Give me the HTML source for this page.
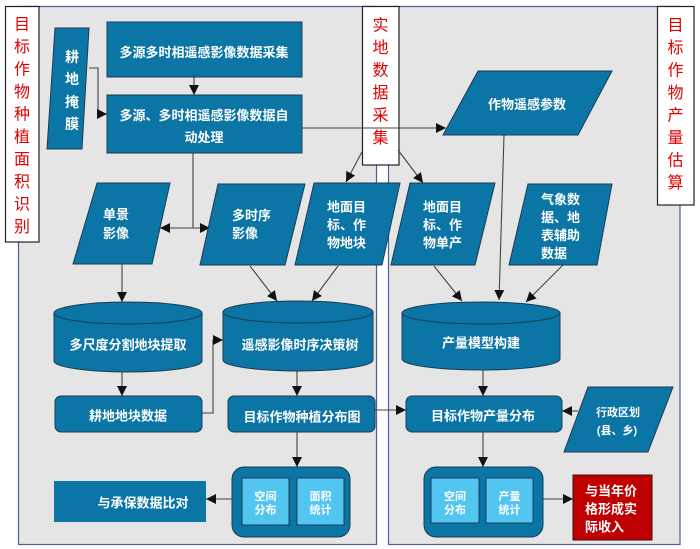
<!DOCTYPE html>
<html><head><meta charset="utf-8">
<style>
html,body{margin:0;padding:0;background:#fff;}
svg{display:block;}
text{font-family:"Liberation Sans","Noto Sans CJK SC",sans-serif;}
.w{fill:#fff;font-weight:bold;font-size:13px;}
.r{fill:#e00000;font-size:16px;text-anchor:middle;}
.c{text-anchor:middle;}
</style></head>
<body>
<svg width="700" height="549" viewBox="0 0 700 549" xmlns="http://www.w3.org/2000/svg">
<defs>
<marker id="a" viewBox="0 0 10 10" refX="10" refY="5" markerWidth="10" markerHeight="10" markerUnits="userSpaceOnUse" orient="auto">
<path d="M0,0 L10,5 L0,10 z" fill="#111"/>
</marker>
</defs>
<!-- panels -->
<rect x="18.5" y="6.5" width="358" height="538" fill="#e5e5e5" stroke="#4b5ea0" stroke-width="1.2"/>
<rect x="388.5" y="6.5" width="291.5" height="538" fill="#e5e5e5" stroke="#4b5ea0" stroke-width="1.2"/>

<!-- title boxes -->
<rect x="5.5" y="6.5" width="33.5" height="235.5" fill="#fff" stroke="#222" stroke-width="1.2"/>
<rect x="362.5" y="6.5" width="36.5" height="158.5" fill="#fff" stroke="#222" stroke-width="1.2"/>
<rect x="657.5" y="6.5" width="36.5" height="198.5" fill="#fff" stroke="#222" stroke-width="1.2"/>
<g class="r">
<text x="22" y="29.5">目</text><text x="22" y="52">标</text><text x="22" y="74.5">作</text><text x="22" y="97">物</text><text x="22" y="119.5">种</text><text x="22" y="142">植</text><text x="22" y="164.5">面</text><text x="22" y="187">积</text><text x="22" y="209.5">识</text><text x="22" y="232">别</text>
<text x="380.5" y="30.5">实</text><text x="380.5" y="53">地</text><text x="380.5" y="75.5">数</text><text x="380.5" y="98">据</text><text x="380.5" y="120.5">采</text><text x="380.5" y="143">集</text>
<text x="675.5" y="30.5">目</text><text x="675.5" y="53">标</text><text x="675.5" y="75.5">作</text><text x="675.5" y="98">物</text><text x="675.5" y="120.5">产</text><text x="675.5" y="143">量</text><text x="675.5" y="165.5">估</text><text x="675.5" y="188">算</text>
</g>

<!-- connectors -->
<g stroke="#444" stroke-width="1.1" fill="none">
<path d="M194,77 L194,95" marker-end="url(#a)"/>
<path d="M89,68 L98,68 L98,114 L107,114" marker-end="url(#a)"/>
<path d="M193,153 L193,228"/>
<path d="M193,228 L160,228" marker-end="url(#a)"/>
<path d="M193,228 L210,228" marker-end="url(#a)"/>
<path d="M302,128 L446,128" marker-end="url(#a)"/>
<path d="M363,150 L346,182" marker-end="url(#a)"/>
<path d="M398,150 L423,183" marker-end="url(#a)"/>
<path d="M504,135 L499,300" marker-end="url(#a)"/>
<path d="M122,264 L122,302" marker-end="url(#a)"/>
<path d="M250,266 L277,301" marker-end="url(#a)"/>
<path d="M338,266 L312,301" marker-end="url(#a)"/>
<path d="M434,266 L462,301" marker-end="url(#a)"/>
<path d="M563,265 L526,302" marker-end="url(#a)"/>
<path d="M122,372 L122,396" marker-end="url(#a)"/>
<path d="M202,413 L213,413 L213,340 L223,340" marker-end="url(#a)"/>
<path d="M297,371 L297,396" marker-end="url(#a)"/>
<path d="M297,432 L297,467" marker-end="url(#a)"/>
<path d="M375,410 L406,410" marker-end="url(#a)"/>
<path d="M483,370 L483,396" marker-end="url(#a)"/>
<path d="M578,411 L562,411" marker-end="url(#a)"/>
<path d="M483,432 L483,467" marker-end="url(#a)"/>
<path d="M232,499 L206,499" marker-end="url(#a)"/>
<path d="M543,499 L573,499" marker-end="url(#a)"/>
</g>

<!-- nodes -->
<g fill="#0b76a6" stroke="#1d3a52" stroke-width="1">
<polygon points="55,28 89,28 82,149 47,149"/>
<rect x="107" y="22" width="195" height="55"/>
<rect x="107" y="95" width="195" height="58"/>
<polygon points="478,71 612,71 578,135 443,135"/>
<polygon points="97,183 170,183 152,264 73,264"/>
<polygon points="218,184 305,184 285,265 200,265"/>
<polygon points="314,183 400,183 382,265 295,265"/>
<polygon points="410,183 495,183 475,265 391,265"/>
<polygon points="528,184 612,184 597,265 509,265"/>
<!-- cylinders -->
<path d="M54,313 L54,361 A74,11 0 0 0 202,361 L202,313 Z"/>
<ellipse cx="128" cy="313" rx="74" ry="11"/>
<path d="M223,312 L223,360 A75,11 0 0 0 373,360 L373,312 Z"/>
<ellipse cx="298" cy="312" rx="75" ry="11"/>
<path d="M402,313 L402,359 A79,11 0 0 0 560,359 L560,313 Z"/>
<ellipse cx="481" cy="313" rx="79" ry="11"/>
<!-- rounded rects -->
<rect x="55" y="396" width="147" height="36" rx="6"/>
<rect x="228" y="396" width="147" height="36" rx="6"/>
<rect x="406" y="396" width="156" height="36" rx="6"/>
<polygon points="588,387 673,387 648,452 564,452"/>
<rect x="232" y="467" width="118" height="70" rx="12"/>
<rect x="424" y="467" width="119" height="70" rx="12"/>
</g>
<rect x="54" y="481" width="152" height="41" fill="#0b76a6"/>
<g fill="#52c5f1" stroke="#1d3a52" stroke-width="1">
<rect x="242" y="478" width="47" height="47"/>
<rect x="297" y="478" width="47" height="47"/>
<rect x="431" y="478" width="48" height="45"/>
<rect x="486" y="478" width="47" height="45"/>
</g>
<rect x="573" y="475" width="79" height="65" fill="#c00000" stroke="#3a1010" stroke-width="1"/>

<!-- node texts -->
<g class="w" style="font-size:14px">
<text x="72" y="62" class="c">耕</text><text x="72" y="84" class="c">地</text><text x="72" y="107" class="c">掩</text><text x="72" y="129" class="c">膜</text>
</g>
<g class="w">
<text x="204" y="57" class="c">多源多时相遥感影像数据采集</text>
<text x="204" y="120" class="c">多源、多时相遥感影像数据自</text>
<text x="204" y="142" class="c">动处理</text>
<text x="527" y="109" class="c">作物遥感参数</text>
<text x="103" y="219">单景</text><text x="103" y="238">影像</text>
<text x="232" y="220">多时序</text><text x="232" y="238">影像</text>
<text x="327" y="211.5">地面目</text><text x="327" y="229.5">标、作</text><text x="327" y="247.5">物地块</text>
<text x="423" y="211.5">地面目</text><text x="423" y="229.5">标、作</text><text x="423" y="247.5">物单产</text>
<text x="541" y="204">气象数</text><text x="541" y="222">据、地</text><text x="541" y="240">表辅助</text><text x="541" y="258">数据</text>
<text x="128" y="349.5" class="c">多尺度分割地块提取</text>
<text x="300" y="349.5" class="c">遥感影像时序决策树</text>
<text x="481" y="347.5" class="c">产量模型构建</text>
<text x="128" y="420.5" class="c">耕地地块数据</text>
<text x="302" y="421.5" class="c">目标作物种植分布图</text>
<text x="483" y="420.5" class="c">目标作物产量分布</text>
<text x="143" y="507.5" class="c">与承保数据比对</text>
<text x="585" y="495.5">与当年价</text><text x="585" y="513.5">格形成实</text><text x="585" y="531.5">际收入</text>
</g>
<g class="w" style="font-size:11px">
<text x="618" y="416" class="c">行政区划</text>
<text x="617" y="434" class="c">(县、乡)</text>
<text x="265.5" y="500" class="c">空间</text><text x="265.5" y="513.5" class="c">分布</text>
<text x="320.5" y="500" class="c">面积</text><text x="320.5" y="513.5" class="c">统计</text>
<text x="455" y="500" class="c">空间</text><text x="455" y="513.5" class="c">分布</text>
<text x="509.5" y="500" class="c">产量</text><text x="509.5" y="513.5" class="c">统计</text>
</g>
</svg>
</body></html>
